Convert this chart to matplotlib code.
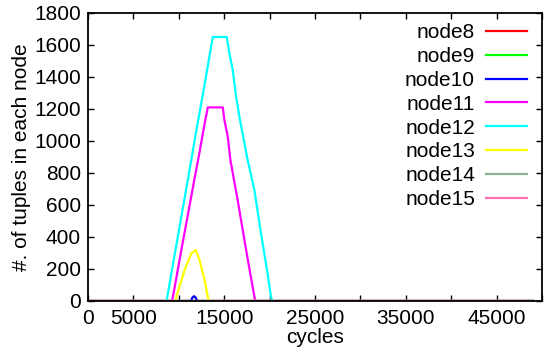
import matplotlib.pyplot as plt

plt.rcParams['font.family'] = ['Liberation Sans', 'DejaVu Sans']

# cycles / tuples for each node
x_flat = [0, 49000]
y_flat = [0, 0]

node10_x = [0, 11350, 11500, 11680, 11850, 12000, 49000]
node10_y = [0, 0, 22, 30, 22, 0, 0]

node11_x = [0, 9250, 9540, 10280, 11000, 11730, 12280, 12830, 13190, 14840,
            15020, 15390, 15680, 16480, 17410, 18320, 18400, 49000]
node11_y = [0, 0, 85, 320, 540, 765, 930, 1105, 1210, 1210,
            1131, 1027, 881, 631, 319, 27, 0, 0]

node12_x = [0, 8650, 9540, 11000, 11920, 12830, 13740, 15270,
            15570, 15940, 16310, 16670, 17220, 17580, 18320, 19050, 19770, 20150, 20300, 49000]
node12_y = [0, 0, 290, 760, 1062, 1350, 1650, 1650,
            1548, 1444, 1277, 1152, 986, 881, 694, 423, 173, 27, 0, 0]

node13_x = [0, 9650, 9730, 10640, 11370, 11850, 12280, 12830, 13190, 13280, 49000]
node13_y = [0, 0, 27, 194, 298, 319, 256, 131, 27, 0, 0]

labels = ['node8', 'node9', 'node10', 'node11', 'node12', 'node13', 'node14', 'node15']
colors = ['#ff0000', '#00ff00', '#0000ff', '#ff00ff', '#00ffff', '#ffff00', '#8fb08f', '#ff6eb4']
series_x = [x_flat, x_flat, node10_x, node11_x, node12_x, node13_x, x_flat, x_flat]
series_y = [y_flat, y_flat, node10_y, node11_y, node12_y, node13_y, y_flat, y_flat]

fig = plt.figure(figsize=(5.44, 3.56), dpi=100)
ax = fig.add_axes([0.1618, 0.1545, 0.8346, 0.809])

for xs, ys, lab, col in zip(series_x, series_y, labels, colors):
    ax.plot(xs, ys, color=col, lw=1.6, label=lab)

ax.set_xlim(0, 50000)
ax.set_ylim(0, 1800)
ax.set_xticks(range(0, 50001, 5000))
ax.set_xticklabels(['0', '5000', '', '15000', '', '25000', '', '35000', '', '45000', ''])
ax.set_yticks(range(0, 1801, 200))
ax.tick_params(direction='in', top=True, right=True, labelsize=15, length=4, width=1, pad=5)
ax.tick_params(axis='x', pad=6)
for s in ax.spines.values():
    s.set_linewidth(1.3)

ax.set_xlabel('cycles', fontsize=15, labelpad=0)
ax.set_ylabel('#. of tuples in each node', fontsize=15, labelpad=2)

ax.legend(loc='upper right', bbox_to_anchor=(0.99, 1.0), frameon=False, markerfirst=False,
          fontsize=15, handlelength=1.95, labelspacing=0.23, borderaxespad=0.1,
          handletextpad=0.55)

fig.savefig('out.png', dpi=100)
